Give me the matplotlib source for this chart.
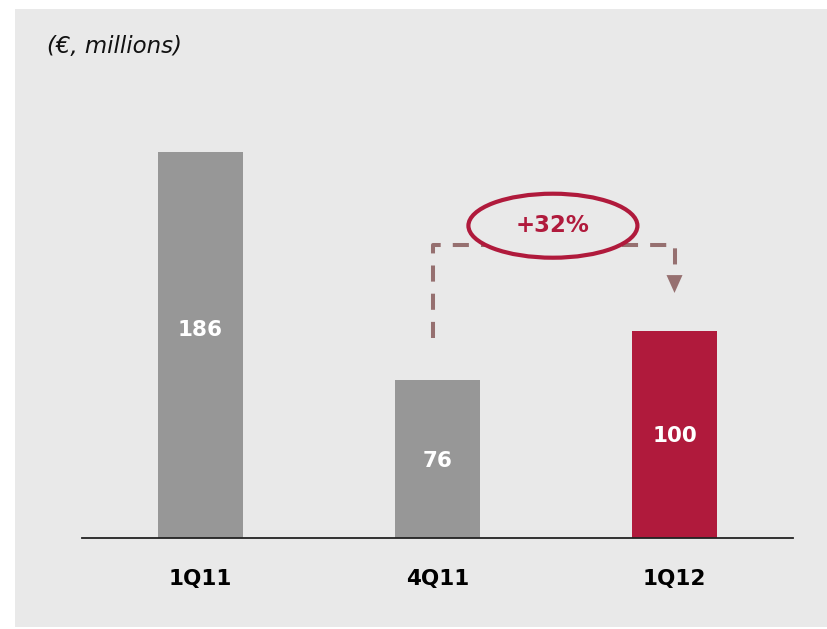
import matplotlib
matplotlib.use("Agg")
import matplotlib.pyplot as plt
from matplotlib.patches import Rectangle, Ellipse, Polygon

# Quarterly figures (€ millions)
categories = ["1Q11", "4Q11", "1Q12"]
values = [186, 76, 100]
bar_colors = ["#979797", "#979797", "#b01a3c"]
growth_label = "+32%"

W, H = 827, 629
fig = plt.figure(figsize=(W / 100, H / 100), dpi=100, facecolor="white")

# light grey panel behind the chart
fig.patches.append(Rectangle((15 / W, 2 / H), 1 - 15 / W, (627 - 9) / H,
                             transform=fig.transFigure, facecolor="#e9e9e9",
                             edgecolor="none", zorder=-10))

px_per_unit = 2.075
base_px = 538
top_px = 10
ax = fig.add_axes([82 / W, (H - base_px) / H, 711 / W, (base_px - top_px) / H])
ax.set_zorder(1)
ax.set_facecolor("none")
ax.set_xlim(-0.5, len(categories) - 0.5)
ax.set_ylim(0, (base_px - top_px) / px_per_unit)

xs = list(range(len(categories)))
ax.bar(xs, values, width=0.36, color=bar_colors, zorder=2)

font = "DejaVu Sans"
label_frac = [0.54, 0.49, 0.49]
for x, v, f in zip(xs, values, label_frac):
    ax.text(x, v * f, str(v), ha="center", va="center", color="white",
            fontsize=15.5, fontweight="bold", family=font, zorder=3)

for s in ["top", "right", "left"]:
    ax.spines[s].set_visible(False)
ax.spines["bottom"].set_color("#222222")
ax.spines["bottom"].set_linewidth(1.3)
ax.set_yticks([])
ax.set_xticks(xs)
ax.set_xticklabels(categories, fontsize=15.5, fontweight="bold", family=font)
ax.tick_params(axis="x", length=0, pad=22)

# dashed growth connector between 4Q11 and 1Q12
dash_color = "#967070"
x_left, x_right = 0.98, 2.0
y_low, y_top, y_head, y_tip = 96.4, 141.2, 126.7, 118.1
ax.plot([x_left, x_left, x_right, x_right], [y_low, y_top, y_top, y_head],
        color=dash_color, lw=2.9, linestyle=(0, (4.0, 3.0)), zorder=2,
        solid_capstyle="butt", dash_capstyle="butt")
half_w = 8 / 237
ax.add_patch(Polygon([(x_right - half_w, y_head), (x_right + half_w, y_head),
                      (x_right, y_tip)], closed=True, facecolor=dash_color,
                     edgecolor="none", zorder=2))

# ellipse with growth rate
ex, ey = 1.487, 150.5
ax.add_patch(Ellipse((ex, ey), 169 / 237, 64 / px_per_unit, facecolor="#e9e9e9",
                     edgecolor="#b01a3c", lw=3, zorder=4))
ax.text(ex, ey, growth_label, ha="center", va="center", color="#b01a3c",
        fontsize=16.5, fontweight="bold", family=font, zorder=5)

fig.text(47 / W, 1 - 47 / H, "(€, millions)", ha="left", va="center",
         fontsize=16.5, style="italic", color="#111111", family=font)

fig.savefig("out.png", dpi=100, facecolor="white")
